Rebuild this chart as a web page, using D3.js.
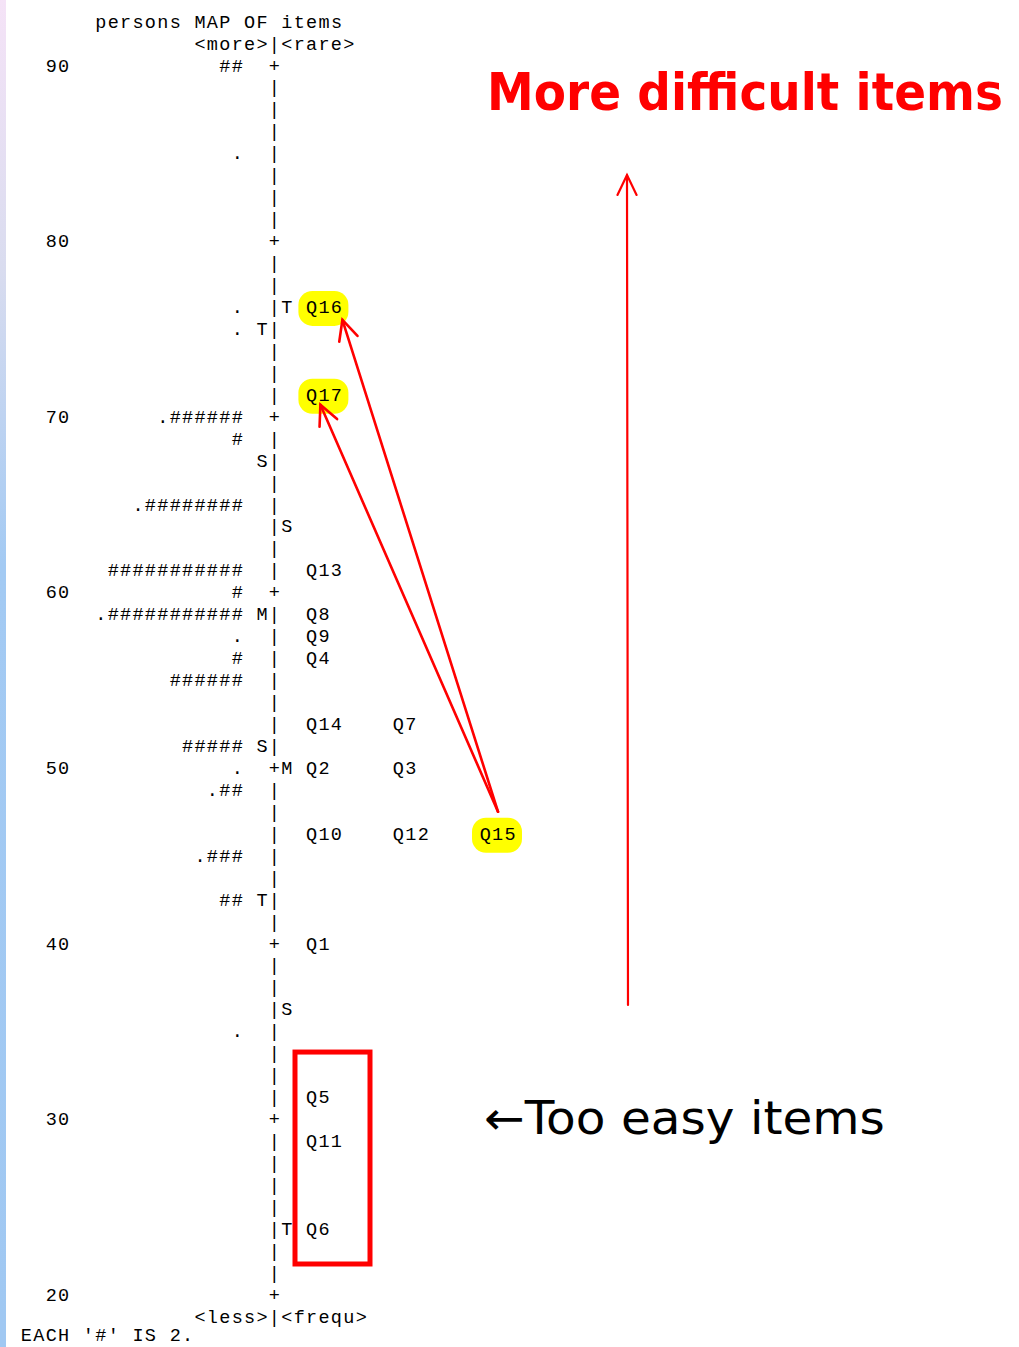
<!DOCTYPE html>
<html>
<head>
<meta charset="utf-8">
<script src="https://cdn.jsdelivr.net/npm/d3@7"></script>
<style>
  html, body { margin: 0; padding: 0; background: #fff; }
  svg { display: block; }
  text { white-space: pre; }
</style>
</head>
<body>
<script>
// ---------------- DATA ----------------
const tickValues = [90, 80, 70, 60, 50, 40, 30, 20];
const rowStep = 1.25; // measure units per printed row

const personMeasures = [90, 85, 76.25, 75, 70, 68.75, 65, 61.25, 60, 58.75, 57.5, 56.25, 55, 51.25, 50, 48.75, 45, 42.5, 35];
const personBars = ["##", ".", ".", ".", ".######", "#", ".########", "###########", "#", ".###########", ".", "#", "######", "#####", ".", ".##", ".###", "##", "."];

const itemNames = ["Q16", "Q17", "Q13", "Q8", "Q9", "Q4", "Q14", "Q7", "Q2", "Q3", "Q10", "Q12", "Q15", "Q1", "Q5", "Q11", "Q6"];
const itemMeasures = [76.25, 71.25, 61.25, 58.75, 57.5, 56.25, 52.5, 52.5, 50, 50, 46.25, 46.25, 46.25, 40, 31.25, 28.75, 23.75];

const personMarkMeasures = [75, 67.5, 58.75, 51.25, 42.5];
const personMarkLabels = ["T", "S", "M", "S", "T"];
const itemMarkMeasures = [76.25, 63.75, 50, 36.25, 23.75];
const itemMarkLabels = ["T", "S", "M", "S", "T"];

const highlightedItems = ["Q16", "Q17", "Q15"];
const tooEasyRange = [22.09, 34.16];        // measures enclosed by the box
const difficultArrowRange = [36.84, 84.1];  // measures spanned by the vertical arrow

const headerTitle = "persons MAP OF items";
const headerTop = "<more>|<rare>";
const footerBottom = "<less>|<frequ>";
const footerNote = "EACH '#' IS 2.";
const annotTop = "More difficult items";
const annotBottom = "\u2190Too easy items";

// ---------------- LAYOUT ----------------
const W = 1019, H = 1347;
const CW = 12.4;                 // monospace pitch
const FS = 18.5;                 // font size
const LS = CW - FS * 0.6;        // letter spacing
const mono = "'Liberation Mono', 'DejaVu Sans Mono', monospace";

const y = d3.scaleLinear().domain([20, 90]).range([1300.7, 71.5]);
const col = d3.scaleLinear().domain([0, 20]).range([20.2, 20.2 + 20 * CW]);
const AXIS_COL = 20, PERSON_END_COL = 17, PMARK_COL = 19, IMARK_COL = 21, ITEM_COL = 23, ITEM_STEP = 7, NUM_COL = 2;

const svg = d3.select("body").append("svg").attr("width", W).attr("height", H);

// left gradient strip
const defs = svg.append("defs");
const g0 = defs.append("linearGradient").attr("id", "strip").attr("x1", 0).attr("y1", 0).attr("x2", 0).attr("y2", 1);
g0.append("stop").attr("offset", "0").attr("stop-color", "#f5e3f7");
g0.append("stop").attr("offset", "0.2").attr("stop-color", "#d9dcef");
g0.append("stop").attr("offset", "0.42").attr("stop-color", "#a3caf3");
g0.append("stop").attr("offset", "1").attr("stop-color", "#a0c8f2");
svg.append("rect").attr("x", 0).attr("y", 0).attr("width", 6).attr("height", H).attr("fill", "url(#strip)");

function monoText(g, str, c, yy, fill) {
  return g.append("text")
    .attr("x", col(c) + LS / 2)
    .attr("y", yy)
    .attr("font-family", mono)
    .attr("font-size", FS)
    .attr("letter-spacing", LS)
    .attr("fill", fill || "#000")
    .text(str);
}

const map = svg.append("g");

// header / footer
monoText(map, headerTitle, 6, y(90 + 2 * rowStep));
monoText(map, headerTop, 14, y(90 + rowStep));
monoText(map, footerBottom, 14, y(20 - rowStep));
monoText(map, footerNote, 0, y(20 - 2 * rowStep) - 4);

// axis column: '+' at ticks, '|' elsewhere
const rows = d3.range(0, Math.round((90 - 20) / rowStep) + 1).map(i => 90 - i * rowStep);
rows.forEach(m => {
  const isTick = tickValues.some(t => Math.abs(t - m) < 1e-6);
  monoText(map, isTick ? "+" : "|", AXIS_COL, y(m));
});

// tick labels
tickValues.forEach(t => monoText(map, String(t), NUM_COL, y(t)));

// persons
personMeasures.forEach((m, i) => {
  const s = personBars[i];
  monoText(map, s, PERSON_END_COL - s.length + 1, y(m));
});

// stat markers
personMarkMeasures.forEach((m, i) => monoText(map, personMarkLabels[i], PMARK_COL, y(m)));
itemMarkMeasures.forEach((m, i) => monoText(map, itemMarkLabels[i], IMARK_COL, y(m)));

// items (slot by order within same measure)
const slotCount = {};
const itemPos = {};
itemNames.forEach((name, i) => {
  const m = itemMeasures[i];
  const k = slotCount[m] || 0;
  slotCount[m] = k + 1;
  const c = ITEM_COL + ITEM_STEP * k;
  itemPos[name] = { c: c, x: col(c), y: y(m) };
});

// highlights under items
const hl = map.insert("g", ":first-child");
highlightedItems.forEach(n => {
  const p = itemPos[n];
  hl.append("rect")
    .attr("x", p.x - 7).attr("y", p.y - 22)
    .attr("width", 50).attr("height", 35)
    .attr("rx", 14).attr("ry", 14)
    .attr("fill", "#ffff00");
});

itemNames.forEach(n => monoText(map, n, itemPos[n].c, itemPos[n].y));

// ---------------- ANNOTATIONS ----------------
const ann = svg.append("g");
const red = "#ff0000";

function arrow(x1, y1, x2, y2, w, head) {
  ann.append("line").attr("x1", x1).attr("y1", y1).attr("x2", x2).attr("y2", y2)
    .attr("stroke", red).attr("stroke-width", w).attr("stroke-linecap", "round");
  const a = Math.atan2(y1 - y2, x1 - x2);
  const spread = 0.45;
  const pts = [a - spread, a + spread].map(t => [x2 + head * Math.cos(t), y2 + head * Math.sin(t)]);
  ann.append("path")
    .attr("d", `M${pts[0][0]},${pts[0][1]} L${x2},${y2} L${pts[1][0]},${pts[1][1]}`)
    .attr("fill", "none").attr("stroke", red).attr("stroke-width", w)
    .attr("stroke-linecap", "round").attr("stroke-linejoin", "miter");
}

const q15 = itemPos["Q15"], q16 = itemPos["Q16"], q17 = itemPos["Q17"];
const startX = q15.x + 19, startY = q15.y - 28;
arrow(startX, startY, q16.x + 37, q16.y + 7, 2.6, 22);
arrow(startX, startY, q17.x + 15, q17.y + 4, 2.6, 22);

// vertical arrow
arrow(628, y(difficultArrowRange[0]), 627, y(difficultArrowRange[1]), 2.2, 22);

// too easy box
const boxTop = y(tooEasyRange[1]), boxBot = y(tooEasyRange[0]);
ann.append("rect")
  .attr("x", 295).attr("y", boxTop)
  .attr("width", 75).attr("height", boxBot - boxTop)
  .attr("fill", "none").attr("stroke", red).attr("stroke-width", 5);

// annotation texts: fit to target width with a horizontal scale
function fitText(str, x, yy, fs, weight, fill, targetW) {
  const t = ann.append("text")
    .attr("x", 0).attr("y", 0)
    .attr("font-family", "'DejaVu Sans', Verdana, sans-serif")
    .attr("font-weight", weight)
    .attr("font-size", fs)
    .attr("fill", fill)
    .text(str);
  const natural = t.node().getComputedTextLength() || targetW;
  const sx = targetW / natural;
  t.attr("transform", `translate(${x},${yy}) scale(${sx},1)`);
  return t;
}
fitText(annotTop, 487, 109.5, 51, "bold", red, 516);
fitText(annotBottom, 484, 1133.5, 46, "normal", "#000", 401);
</script>
</body>
</html>
